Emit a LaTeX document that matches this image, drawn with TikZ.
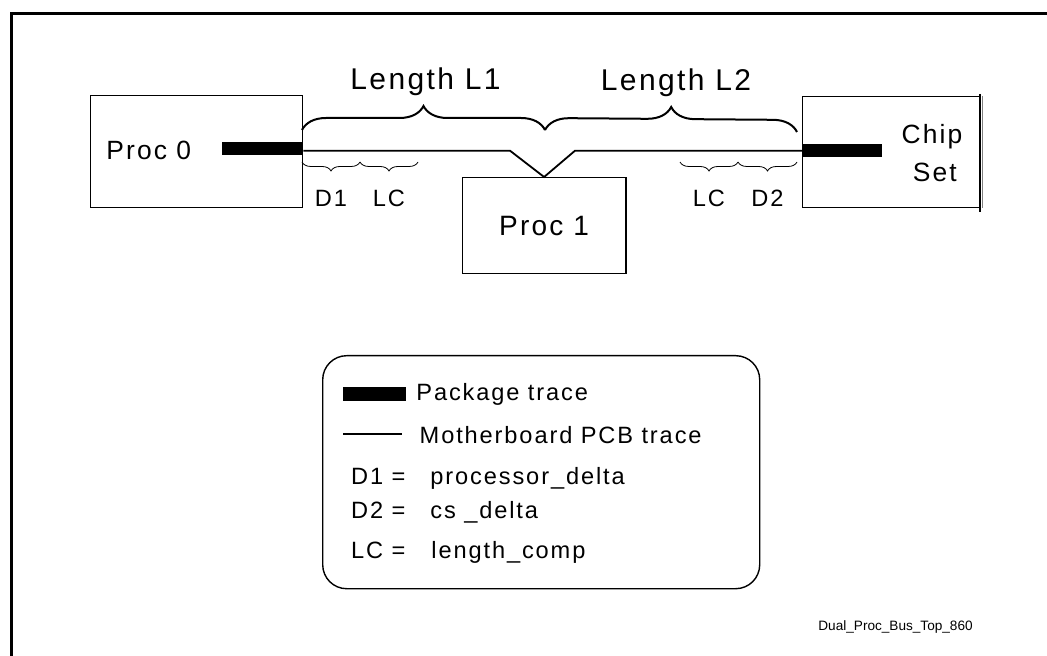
\documentclass[tikz,border=0pt]{standalone}
\usepackage{fontspec}
\setmainfont{Liberation Sans}[LetterSpace=8]
\newfontfamily\tagfamily{Liberation Sans}
\usetikzlibrary{decorations.pathreplacing,positioning}

\tikzset{
  box/.style={draw,line width=0.7pt,inner sep=0pt},
  pkgtrace/.style={line width=6.3pt},
  pcbtrace/.style={line width=0.9pt,line join=miter},
  bigbrace/.style={decorate,decoration={brace,amplitude=12pt},line width=1pt},
  smallbrace/.style={decorate,decoration={brace,mirror,amplitude=4.5pt},line width=0.4pt},
  lbl/.style={inner sep=0pt,anchor=base},
  boxlbl/.style={font=\fontsize{13.2}{15}\selectfont},
  lenlbl/.style={font=\fontsize{15}{17}\selectfont},
  deltalbl/.style={font=\fontsize{11.8}{14}\selectfont},
  keylbl/.style={inner sep=0pt,anchor=base west,font=\fontsize{11.8}{14}\selectfont},
}

\begin{document}
\begin{tikzpicture}[x=0.5pt,y=-0.5pt]
\useasboundingbox (0,0) rectangle (1047,656);
\draw[line width=1.5pt] (11.3,660) |- (1050,13.3);

\node[box,minimum width=106pt,minimum height=56pt,anchor=north west] (proc0) at (90,95) {};
\node[box,font=\fontsize{14}{16}\selectfont,minimum width=81.7pt,minimum height=48pt,anchor=north west] (proc1) at (461.7,177) {Proc 1};
\node[box,minimum width=88.3pt,minimum height=55.5pt,anchor=north west] (chip) at (802,96) {};
\draw[line width=0.7pt] ([yshift=1pt]chip.north east) -- ([yshift=-1.8pt]chip.south east);
\draw[gray,line width=0.6pt] ([xshift=1.3pt]chip.north east) -- ([xshift=1.3pt]chip.south east);

\node[lbl,boxlbl,anchor=base west] (proc0txt) at (106,160) {Proc 0};
\node[lbl,boxlbl] (chiptxt) at (932,143.3) {Chip};
\node[lbl,boxlbl] (settxt) at (934.7,181.7) {Set};

\coordinate (p0pin) at (222,148.5);
\coordinate (cspin) at (882,150.3);
\coordinate (bendL) at (510,150.7);
\coordinate (bendR) at (575,150.7);
\draw[pkgtrace] (p0pin) -- (proc0.east |- p0pin);
\draw[pkgtrace] (chip.west |- cspin) -- (cspin);
\draw[pcbtrace] (proc0.east |- bendL) -- (bendL) -- (proc1.north) -- (bendR) -- (chip.west |- bendR);

\coordinate (l1a) at (302,130);
\coordinate (l1b) at (545,130);
\coordinate (l2b) at (797,132);
\draw[bigbrace] (l1a) -- (l1b) node[lbl,lenlbl,midway,yshift=20pt,xshift=1pt] (l1txt) {Length L1};
\draw[bigbrace] (l1b) -- (l2b) node[lbl,lenlbl,midway,yshift=20pt,xshift=2.5pt] (l2txt) {Length L2};

\coordinate (d1a) at (302,162);
\coordinate (d1b) at (360,162);
\coordinate (lcLb) at (418,162);
\coordinate (lcRa) at (680,162);
\coordinate (d2a) at (738,162);
\coordinate (d2b) at (797,162);
\draw[smallbrace] (d1a) -- (d1b) node[lbl,deltalbl,midway,yshift=-22.3pt] (d1txt) {D1};
\draw[smallbrace] (d1b) -- (lcLb) node[lbl,deltalbl,midway,yshift=-22.3pt] (lcLtxt) {LC};
\draw[smallbrace] (lcRa) -- (d2a) node[lbl,deltalbl,midway,yshift=-22.3pt] (lcRtxt) {LC};
\draw[smallbrace] (d2a) -- (d2b) node[lbl,deltalbl,midway,yshift=-22.3pt] (d2txt) {D2};

\node[draw,line width=0.7pt,rounded corners=12pt,minimum width=218.5pt,minimum height=116.5pt,anchor=north west] (legend) at (322,355) {};
\coordinate (keyA) at (343.3,393.7);
\coordinate (keyB) at (406,393.7);
\coordinate (keyC) at (343.3,434);
\coordinate (keyD) at (402,434);
\draw[line width=7pt] (keyA) -- (keyB);
\draw[line width=0.8pt] (keyC) -- (keyD);
\node[keylbl] (pkgtxt) at (416,401) {Package trace};
\node[keylbl] (pcbtxt) at (419.3,443.3) {Motherboard PCB trace};
\node[keylbl] (d1key) at (350.7,485) {D1 =};
\node[keylbl] (d1val) at (430,485) {processor\_delta};
\node[keylbl] (d2key) at (350.7,518.3) {D2 =};
\node[keylbl] (d2val) at (430,518.3) {cs \_delta};
\node[keylbl] (lckey) at (350.7,558.3) {LC =};
\node[keylbl] (lcval) at (431,558.3) {length\_comp};

\node[lbl,anchor=base west,font=\tagfamily\fontsize{6.8}{8}\selectfont] (tag) at (818,630.7) {Dual\_Proc\_Bus\_Top\_860};
\end{tikzpicture}
\end{document}
